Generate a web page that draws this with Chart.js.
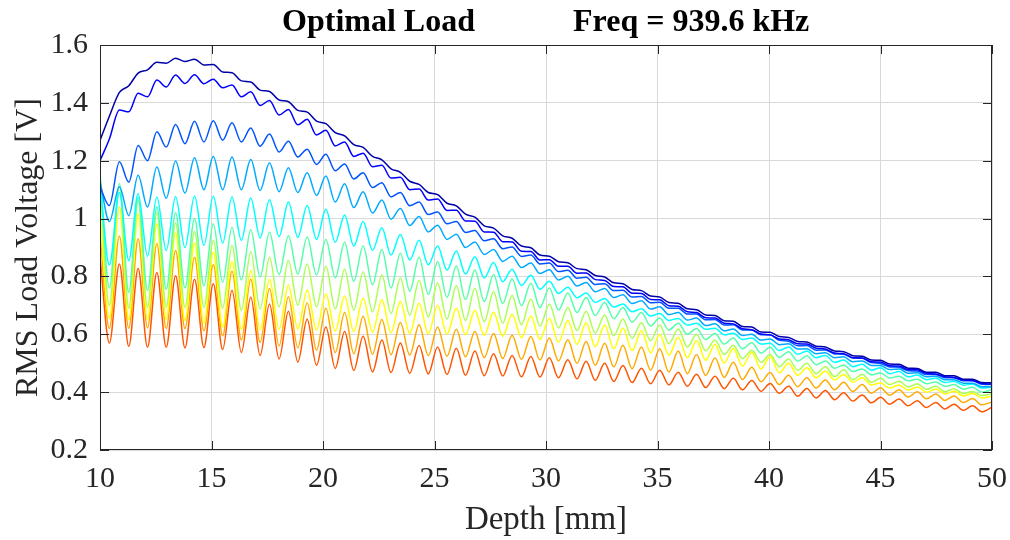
<!DOCTYPE html>
<html lang="en">
<head>
<meta charset="UTF-8">
<title>Optimal Load - RMS Load Voltage vs Depth</title>
<script src="https://cdn.jsdelivr.net/npm/chart.js"></script>
<style>
  html, body { margin: 0; padding: 0; background: #fff; }
  #wrap { width: 1010px; height: 540px; }
</style>
</head>
<body>
<div id="wrap"><canvas id="chart" width="1010" height="540"></canvas></div>
<script>
// depth (mm) of each ripple top / bottom
const depthMm = [
  10.00, 10.42, 10.87, 11.29, 11.71, 12.13, 12.55, 12.97, 13.39, 13.81,
  14.24, 14.66, 15.08, 15.50, 15.92, 16.34, 16.76, 17.18, 17.60, 18.03,
  18.45, 18.87, 19.29, 19.71, 20.13, 20.55, 20.97, 21.38, 21.80, 22.22,
  22.64, 23.05, 23.47, 23.89, 24.31, 24.72, 25.14, 25.56, 25.98, 26.39,
  26.81, 27.23, 27.65, 28.06, 28.48, 28.90, 29.32, 29.73, 30.15, 30.56,
  30.98, 31.39, 31.80, 32.21, 32.63, 33.04, 33.45, 33.86, 34.28, 34.69,
  35.10, 35.51, 35.93, 36.34, 36.75, 37.16, 37.58, 37.99, 38.40, 38.81,
  39.23, 39.64, 40.05, 40.46, 40.88, 41.29, 41.70, 42.11, 42.53, 42.94,
  43.35, 43.76, 44.18, 44.59, 45.00, 45.41, 45.83, 46.24, 46.65, 47.06,
  47.48, 47.89, 48.30, 48.71, 49.13, 49.54, 50.00
];

// RMS load voltage (V), one array per curve, top curve first
const vNavy = [
  1.270, 1.354, 1.436, 1.459, 1.503, 1.514, 1.540, 1.537, 1.554, 1.543,
  1.551, 1.531, 1.533, 1.507, 1.504, 1.476, 1.472, 1.444, 1.439, 1.410,
  1.404, 1.374, 1.368, 1.337, 1.328, 1.297, 1.286, 1.256, 1.246, 1.215,
  1.203, 1.172, 1.160, 1.129, 1.118, 1.090, 1.083, 1.053, 1.044, 1.015,
  1.005, 0.975, 0.967, 0.940, 0.932, 0.905, 0.899, 0.874, 0.870, 0.851,
  0.847, 0.827, 0.823, 0.803, 0.798, 0.778, 0.775, 0.755, 0.751, 0.732,
  0.729, 0.710, 0.707, 0.688, 0.685, 0.667, 0.665, 0.647, 0.645, 0.627,
  0.625, 0.608, 0.607, 0.592, 0.589, 0.575, 0.573, 0.559, 0.556, 0.542,
  0.540, 0.526, 0.524, 0.511, 0.510, 0.497, 0.496, 0.483, 0.482, 0.469,
  0.469, 0.457, 0.457, 0.445, 0.445, 0.433, 0.432
];
const vBlue = [
  1.200, 1.275, 1.375, 1.369, 1.433, 1.421, 1.479, 1.455, 1.496, 1.467,
  1.497, 1.466, 1.482, 1.452, 1.462, 1.421, 1.438, 1.391, 1.408, 1.358,
  1.377, 1.324, 1.343, 1.289, 1.305, 1.251, 1.265, 1.215, 1.226, 1.179,
  1.184, 1.140, 1.143, 1.100, 1.102, 1.064, 1.068, 1.028, 1.029, 0.992,
  0.991, 0.954, 0.953, 0.920, 0.919, 0.887, 0.886, 0.857, 0.858, 0.835,
  0.835, 0.811, 0.812, 0.789, 0.786, 0.765, 0.764, 0.742, 0.741, 0.720,
  0.719, 0.699, 0.697, 0.678, 0.675, 0.657, 0.656, 0.638, 0.636, 0.619,
  0.616, 0.601, 0.598, 0.584, 0.581, 0.567, 0.566, 0.552, 0.549, 0.535,
  0.533, 0.519, 0.518, 0.505, 0.504, 0.491, 0.490, 0.478, 0.477, 0.465,
  0.463, 0.453, 0.451, 0.442, 0.440, 0.430, 0.428
];
const vRoyal = [
  1.110, 1.045, 1.196, 1.126, 1.253, 1.200, 1.300, 1.247, 1.325, 1.259,
  1.336, 1.265, 1.338, 1.271, 1.331, 1.265, 1.313, 1.250, 1.292, 1.230,
  1.267, 1.213, 1.240, 1.187, 1.222, 1.165, 1.189, 1.137, 1.158, 1.107,
  1.124, 1.075, 1.090, 1.044, 1.057, 1.014, 1.023, 0.982, 0.990, 0.952,
  0.959, 0.923, 0.930, 0.896, 0.902, 0.869, 0.874, 0.843, 0.846, 0.817,
  0.821, 0.794, 0.797, 0.772, 0.775, 0.751, 0.752, 0.729, 0.731, 0.709,
  0.711, 0.690, 0.690, 0.670, 0.670, 0.650, 0.651, 0.632, 0.633, 0.615,
  0.615, 0.598, 0.598, 0.579, 0.576, 0.560, 0.561, 0.545, 0.546, 0.532,
  0.531, 0.518, 0.517, 0.502, 0.499, 0.487, 0.486, 0.474, 0.473, 0.461,
  0.461, 0.450, 0.450, 0.439, 0.439, 0.427, 0.426
];
const vSky = [
  1.130, 0.990, 1.110, 1.010, 1.150, 1.040, 1.178, 1.070, 1.199, 1.088,
  1.210, 1.100, 1.215, 1.100, 1.213, 1.100, 1.204, 1.097, 1.193, 1.093,
  1.176, 1.090, 1.158, 1.080, 1.147, 1.057, 1.120, 1.038, 1.093, 1.019,
  1.064, 0.998, 1.035, 0.976, 1.007, 0.954, 0.977, 0.928, 0.946, 0.900,
  0.919, 0.876, 0.893, 0.852, 0.870, 0.831, 0.846, 0.810, 0.823, 0.788,
  0.801, 0.767, 0.779, 0.747, 0.758, 0.727, 0.737, 0.706, 0.716, 0.687,
  0.695, 0.668, 0.675, 0.649, 0.656, 0.630, 0.636, 0.612, 0.618, 0.596,
  0.600, 0.580, 0.584, 0.564, 0.567, 0.549, 0.550, 0.533, 0.536, 0.519,
  0.522, 0.505, 0.508, 0.492, 0.492, 0.478, 0.480, 0.465, 0.467, 0.453,
  0.455, 0.443, 0.443, 0.431, 0.431, 0.419, 0.419
];
const vCyan = [
  1.130, 0.840, 1.090, 0.855, 1.086, 0.870, 1.075, 0.890, 1.076, 0.900,
  1.078, 0.908, 1.077, 0.915, 1.075, 0.925, 1.071, 0.933, 1.065, 0.938,
  1.057, 0.935, 1.045, 0.928, 1.032, 0.918, 1.012, 0.905, 0.990, 0.890,
  0.968, 0.874, 0.945, 0.857, 0.925, 0.840, 0.905, 0.822, 0.888, 0.808,
  0.868, 0.795, 0.848, 0.782, 0.825, 0.769, 0.804, 0.756, 0.783, 0.741,
  0.763, 0.726, 0.743, 0.710, 0.724, 0.694, 0.705, 0.678, 0.688, 0.663,
  0.672, 0.648, 0.655, 0.632, 0.638, 0.617, 0.621, 0.598, 0.604, 0.582,
  0.587, 0.566, 0.569, 0.544, 0.556, 0.531, 0.542, 0.519, 0.527, 0.503,
  0.511, 0.488, 0.496, 0.476, 0.484, 0.464, 0.471, 0.453, 0.459, 0.443,
  0.448, 0.433, 0.438, 0.424, 0.428, 0.414, 0.417
];
const vSea = [
  1.160, 0.760, 1.120, 0.745, 1.074, 0.751, 1.040, 0.755, 1.020, 0.760,
  1.000, 0.768, 0.982, 0.780, 0.970, 0.788, 0.961, 0.798, 0.953, 0.806,
  0.941, 0.808, 0.936, 0.805, 0.928, 0.795, 0.918, 0.783, 0.905, 0.771,
  0.893, 0.760, 0.880, 0.749, 0.866, 0.738, 0.851, 0.728, 0.836, 0.720,
  0.822, 0.713, 0.807, 0.706, 0.792, 0.699, 0.776, 0.692, 0.760, 0.684,
  0.743, 0.675, 0.727, 0.665, 0.710, 0.654, 0.693, 0.642, 0.675, 0.629,
  0.656, 0.615, 0.638, 0.600, 0.620, 0.582, 0.603, 0.566, 0.587, 0.550,
  0.571, 0.535, 0.555, 0.520, 0.540, 0.507, 0.526, 0.495, 0.508, 0.483,
  0.494, 0.471, 0.480, 0.460, 0.466, 0.449, 0.455, 0.439, 0.445, 0.429,
  0.435, 0.420, 0.426, 0.410, 0.417, 0.400, 0.408
];
const vLime = [
  1.120, 0.700, 1.110, 0.690, 1.063, 0.693, 1.020, 0.693, 0.985, 0.693,
  0.955, 0.693, 0.924, 0.690, 0.907, 0.683, 0.885, 0.687, 0.866, 0.695,
  0.855, 0.700, 0.843, 0.695, 0.835, 0.688, 0.825, 0.683, 0.815, 0.678,
  0.805, 0.672, 0.795, 0.666, 0.786, 0.660, 0.777, 0.653, 0.768, 0.648,
  0.758, 0.643, 0.747, 0.638, 0.735, 0.633, 0.722, 0.628, 0.705, 0.622,
  0.693, 0.613, 0.680, 0.604, 0.667, 0.595, 0.653, 0.586, 0.640, 0.578,
  0.632, 0.568, 0.618, 0.556, 0.600, 0.543, 0.580, 0.530, 0.562, 0.516,
  0.545, 0.503, 0.530, 0.488, 0.515, 0.476, 0.500, 0.464, 0.488, 0.453,
  0.477, 0.443, 0.462, 0.434, 0.448, 0.426, 0.438, 0.418, 0.429, 0.410,
  0.420, 0.402, 0.412, 0.395, 0.402, 0.388, 0.394
];
const vYellow = [
  1.020, 0.655, 1.040, 0.650, 1.015, 0.653, 0.982, 0.652, 0.950, 0.647,
  0.915, 0.638, 0.884, 0.625, 0.852, 0.618, 0.820, 0.615, 0.790, 0.617,
  0.770, 0.619, 0.752, 0.615, 0.740, 0.611, 0.732, 0.609, 0.725, 0.607,
  0.719, 0.605, 0.713, 0.603, 0.707, 0.601, 0.700, 0.600, 0.690, 0.598,
  0.683, 0.596, 0.676, 0.593, 0.669, 0.588, 0.663, 0.582, 0.655, 0.572,
  0.648, 0.565, 0.640, 0.557, 0.632, 0.550, 0.622, 0.543, 0.612, 0.536,
  0.600, 0.528, 0.590, 0.519, 0.578, 0.510, 0.565, 0.500, 0.551, 0.490,
  0.537, 0.480, 0.522, 0.467, 0.500, 0.458, 0.484, 0.450, 0.472, 0.442,
  0.461, 0.434, 0.450, 0.425, 0.432, 0.414, 0.425, 0.407, 0.418, 0.400,
  0.411, 0.394, 0.403, 0.387, 0.395, 0.380, 0.386
];
const vOrange = [
  0.947, 0.620, 0.940, 0.620, 0.930, 0.622, 0.913, 0.620, 0.890, 0.620,
  0.866, 0.612, 0.840, 0.595, 0.818, 0.580, 0.790, 0.572, 0.758, 0.560,
  0.730, 0.553, 0.708, 0.545, 0.690, 0.537, 0.675, 0.533, 0.662, 0.531,
  0.651, 0.529, 0.641, 0.528, 0.633, 0.526, 0.625, 0.524, 0.617, 0.522,
  0.610, 0.519, 0.603, 0.516, 0.597, 0.513, 0.592, 0.511, 0.587, 0.508,
  0.581, 0.500, 0.575, 0.493, 0.569, 0.487, 0.562, 0.481, 0.556, 0.476,
  0.550, 0.470, 0.542, 0.464, 0.530, 0.458, 0.518, 0.451, 0.503, 0.444,
  0.486, 0.436, 0.468, 0.426, 0.458, 0.419, 0.450, 0.414, 0.442, 0.408,
  0.434, 0.402, 0.426, 0.396, 0.415, 0.389, 0.408, 0.383, 0.401, 0.377,
  0.394, 0.371, 0.387, 0.364, 0.378, 0.356, 0.366
];
const vRed = [
  0.866, 0.570, 0.843, 0.558, 0.827, 0.555, 0.814, 0.555, 0.802, 0.553,
  0.790, 0.554, 0.775, 0.547, 0.752, 0.537, 0.728, 0.527, 0.705, 0.515,
  0.680, 0.504, 0.652, 0.493, 0.625, 0.482, 0.610, 0.475, 0.593, 0.470,
  0.580, 0.468, 0.570, 0.465, 0.561, 0.463, 0.556, 0.461, 0.552, 0.458,
  0.542, 0.457, 0.533, 0.456, 0.527, 0.453, 0.523, 0.452, 0.519, 0.450,
  0.512, 0.446, 0.507, 0.441, 0.500, 0.437, 0.492, 0.433, 0.483, 0.429,
  0.476, 0.425, 0.469, 0.420, 0.462, 0.416, 0.455, 0.412, 0.448, 0.408,
  0.440, 0.403, 0.430, 0.396, 0.420, 0.386, 0.413, 0.380, 0.406, 0.374,
  0.398, 0.369, 0.390, 0.363, 0.382, 0.358, 0.376, 0.353, 0.370, 0.347,
  0.364, 0.342, 0.358, 0.337, 0.353, 0.332, 0.348
];

const xTicks = [10, 15, 20, 25, 30, 35, 40, 45, 50];
const yTicks = [0.2, 0.4, 0.6, 0.8, 1, 1.2, 1.4, 1.6];

// jet(10) colour order, same as the curves above
const curves = [vNavy, vBlue, vRoyal, vSky, vCyan, vSea, vLime, vYellow, vOrange, vRed];
const colours = [
  'rgb(0,0,170)', 'rgb(0,0,255)', 'rgb(0,85,255)', 'rgb(0,170,255)', 'rgb(0,255,255)',
  'rgb(85,255,170)', 'rgb(170,255,85)', 'rgb(255,255,0)', 'rgb(255,170,0)', 'rgb(255,85,0)'
];

const serif = '"Liberation Serif", "Times New Roman", serif';
const axisGrey = '#262626';

// box round the plot, inward ticks and the title
const frame = {
  id: 'frame',
  afterDraw(chart) {
    const { ctx, chartArea: a, scales } = chart;
    ctx.save();
    ctx.strokeStyle = axisGrey;
    ctx.lineWidth = 1;
    ctx.strokeRect(a.left + 0.5, a.top + 0.5, a.width - 1, a.height - 1);
    ctx.beginPath();
    xTicks.forEach(v => {
      const px = Math.round(scales.x.getPixelForValue(v)) + 0.5;
      ctx.moveTo(px, a.bottom); ctx.lineTo(px, a.bottom - 9);
      ctx.moveTo(px, a.top); ctx.lineTo(px, a.top + 9);
    });
    yTicks.forEach(v => {
      const py = Math.round(scales.y.getPixelForValue(v)) + 0.5;
      ctx.moveTo(a.left, py); ctx.lineTo(a.left + 9, py);
      ctx.moveTo(a.right, py); ctx.lineTo(a.right - 9, py);
    });
    ctx.stroke();

    // title in two parts, like the figure
    ctx.fillStyle = '#000';
    ctx.font = 'bold 32px ' + serif;
    ctx.textBaseline = 'middle';
    const cx = (a.left + a.right) / 2;
    ctx.textAlign = 'right';
    ctx.fillText('Optimal Load', cx - 71, 23);
    ctx.textAlign = 'left';
    ctx.fillText('Freq = 939.6 kHz', cx + 27, 23);
    ctx.restore();
  }
};

const ctx = document.getElementById('chart').getContext('2d');
new Chart(ctx, {
  type: 'line',
  data: {
    datasets: curves.map((vals, k) => ({
      data: vals.map((v, i) => ({ x: depthMm[i], y: v })),
      borderColor: colours[k],
      borderWidth: 1.5,
      pointRadius: 0,
      fill: false,
      cubicInterpolationMode: 'monotone'
    }))
  },
  options: {
    responsive: false,
    animation: false,
    layout: { padding: { top: 45, right: 18, bottom: 0, left: 0 } },
    plugins: { legend: { display: false }, tooltip: { enabled: false } },
    scales: {
      x: {
        type: 'linear', min: 10, max: 50,
        afterFit: s => { s.height = 90; s.paddingLeft = 0; s.paddingRight = 0; },
        afterBuildTicks: s => { s.ticks = xTicks.map(v => ({ value: v })); },
        ticks: { font: { family: serif, size: 30 }, color: axisGrey, padding: 11, maxRotation: 0 },
        grid: { color: '#d9d9d9', drawTicks: false },
        border: { display: false },
        title: { display: true, text: 'Depth [mm]', color: axisGrey,
                 font: { family: serif, size: 33 }, padding: { top: 0, bottom: 0 } }
      },
      y: {
        type: 'linear', min: 0.2, max: 1.6,
        afterFit: s => { s.width = 100; s.paddingTop = 0; s.paddingBottom = 0; },
        afterBuildTicks: s => { s.ticks = yTicks.map(v => ({ value: v })); },
        ticks: { font: { family: serif, size: 30 }, color: axisGrey, padding: 12,
                 callback: v => String(v) },
        grid: { color: '#d9d9d9', drawTicks: false },
        border: { display: false },
        title: { display: true, text: 'RMS Load Voltage [V]', color: axisGrey,
                 font: { family: serif, size: 32 }, padding: { top: 9, bottom: 0 } }
      }
    }
  },
  plugins: [frame]
});
</script>
</body>
</html>
